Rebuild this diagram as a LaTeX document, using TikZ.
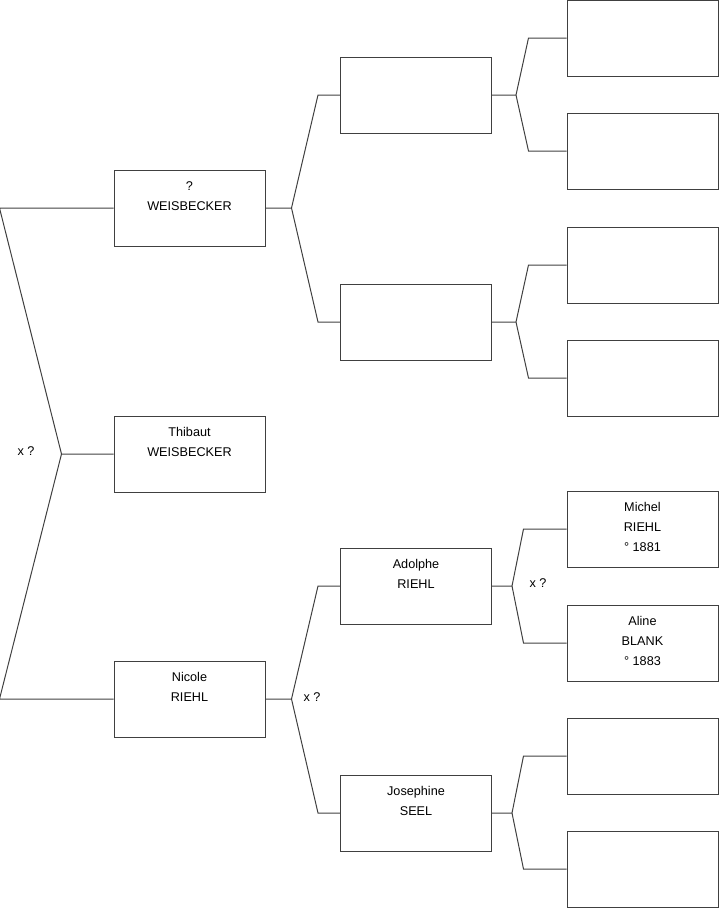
\documentclass[tikz,border=0pt]{standalone}
\usepackage{fontspec}
\setmainfont{Liberation Sans}
\usepackage{tikz}
\usetikzlibrary{positioning}
\definecolor{boxline}{RGB}{64,64,64}

\begin{document}
\begin{tikzpicture}[x=0.75pt, y=-0.75pt,
    pbox/.style={draw=boxline, line width=0.75pt, minimum width=113.25pt, minimum height=57pt, inner sep=0pt},
    ptext/.style={align=center, inner sep=0pt, font=\fontsize{9.5}{15}\selectfont},
    link/.style={draw=boxline, line width=0.75pt}]
  \useasboundingbox (0,0) rectangle (719,908);
  % generation 1
  \node[pbox] (wei) at (189.5,208) {};
  \node[pbox] (thi) at (189.5,454) {};
  \node[pbox] (nic) at (189.5,699) {};
  % generation 2
  \node[pbox] (wa) at (416,95) {};
  \node[pbox] (wb) at (416,322) {};
  \node[pbox] (ado) at (416,586) {};
  \node[pbox] (jos) at (416,813) {};
  % generation 3
  \node[pbox] (waa) at (642.5,38) {};
  \node[pbox] (wab) at (642.5,151) {};
  \node[pbox] (wba) at (642.5,265) {};
  \node[pbox] (wbb) at (642.5,378) {};
  \node[pbox] (mic) at (642.5,529) {};
  \node[pbox] (ali) at (642.5,643) {};
  \node[pbox] (jsa) at (642.5,756) {};
  \node[pbox] (jsb) at (642.5,869) {};
  % names
  \node[ptext, below=9pt of wei.north] (weitxt) {?\\WEISBECKER};
  \node[ptext, below=9pt of thi.north] (thitxt) {Thibaut\\WEISBECKER};
  \node[ptext, below=9pt of nic.north] (nictxt) {Nicole\\RIEHL};
  \node[ptext, below=9pt of ado.north] (adotxt) {Adolphe\\RIEHL};
  \node[ptext, below=9pt of jos.north] (jostxt) {Josephine\\SEEL};
  \node[ptext, below=9pt of mic.north] (mictxt) {Michel\\RIEHL\\° 1881};
  \node[ptext, below=9pt of ali.north] (alitxt) {Aline\\BLANK\\° 1883};
  % marriages
  \node[ptext] (xthi) at (26,451) {x ?};
  \node[ptext] (xnic) at (312,697) {x ?};
  \node[ptext] (xado) at (538,583) {x ?};
  % links
  \draw[link] (wei.west) -- ++(-114,0) -- ([xshift=-39pt]thi.west) -- (thi.west);
  \draw[link] ([xshift=-39pt]thi.west) -- ([xshift=-85.5pt]nic.west) -- (nic.west);
  \draw[link] (wa.west) -- ([xshift=-16.5pt]wa.west) -- ([xshift=19.5pt]wei.east) -- (wei.east);
  \draw[link] (wb.west) -- ([xshift=-16.5pt]wb.west) -- ([xshift=19.5pt]wei.east);
  \draw[link] (ado.west) -- ([xshift=-16.5pt]ado.west) -- ([xshift=19.5pt]nic.east) -- (nic.east);
  \draw[link] (jos.west) -- ([xshift=-16.5pt]jos.west) -- ([xshift=19.5pt]nic.east);
  \draw[link] (waa.west) -- ([xshift=-28.5pt]waa.west) -- ([xshift=18pt]wa.east) -- (wa.east);
  \draw[link] (wab.west) -- ([xshift=-28.5pt]wab.west) -- ([xshift=18pt]wa.east);
  \draw[link] (wba.west) -- ([xshift=-28.5pt]wba.west) -- ([xshift=18pt]wb.east) -- (wb.east);
  \draw[link] (wbb.west) -- ([xshift=-28.5pt]wbb.west) -- ([xshift=18pt]wb.east);
  \draw[link] (mic.west) -- ([xshift=-32.25pt]mic.west) -- ([xshift=15pt]ado.east) -- (ado.east);
  \draw[link] (ali.west) -- ([xshift=-32.25pt]ali.west) -- ([xshift=15pt]ado.east);
  \draw[link] (jsa.west) -- ([xshift=-32.25pt]jsa.west) -- ([xshift=15pt]jos.east) -- (jos.east);
  \draw[link] (jsb.west) -- ([xshift=-32.25pt]jsb.west) -- ([xshift=15pt]jos.east);
\end{tikzpicture}
\end{document}
